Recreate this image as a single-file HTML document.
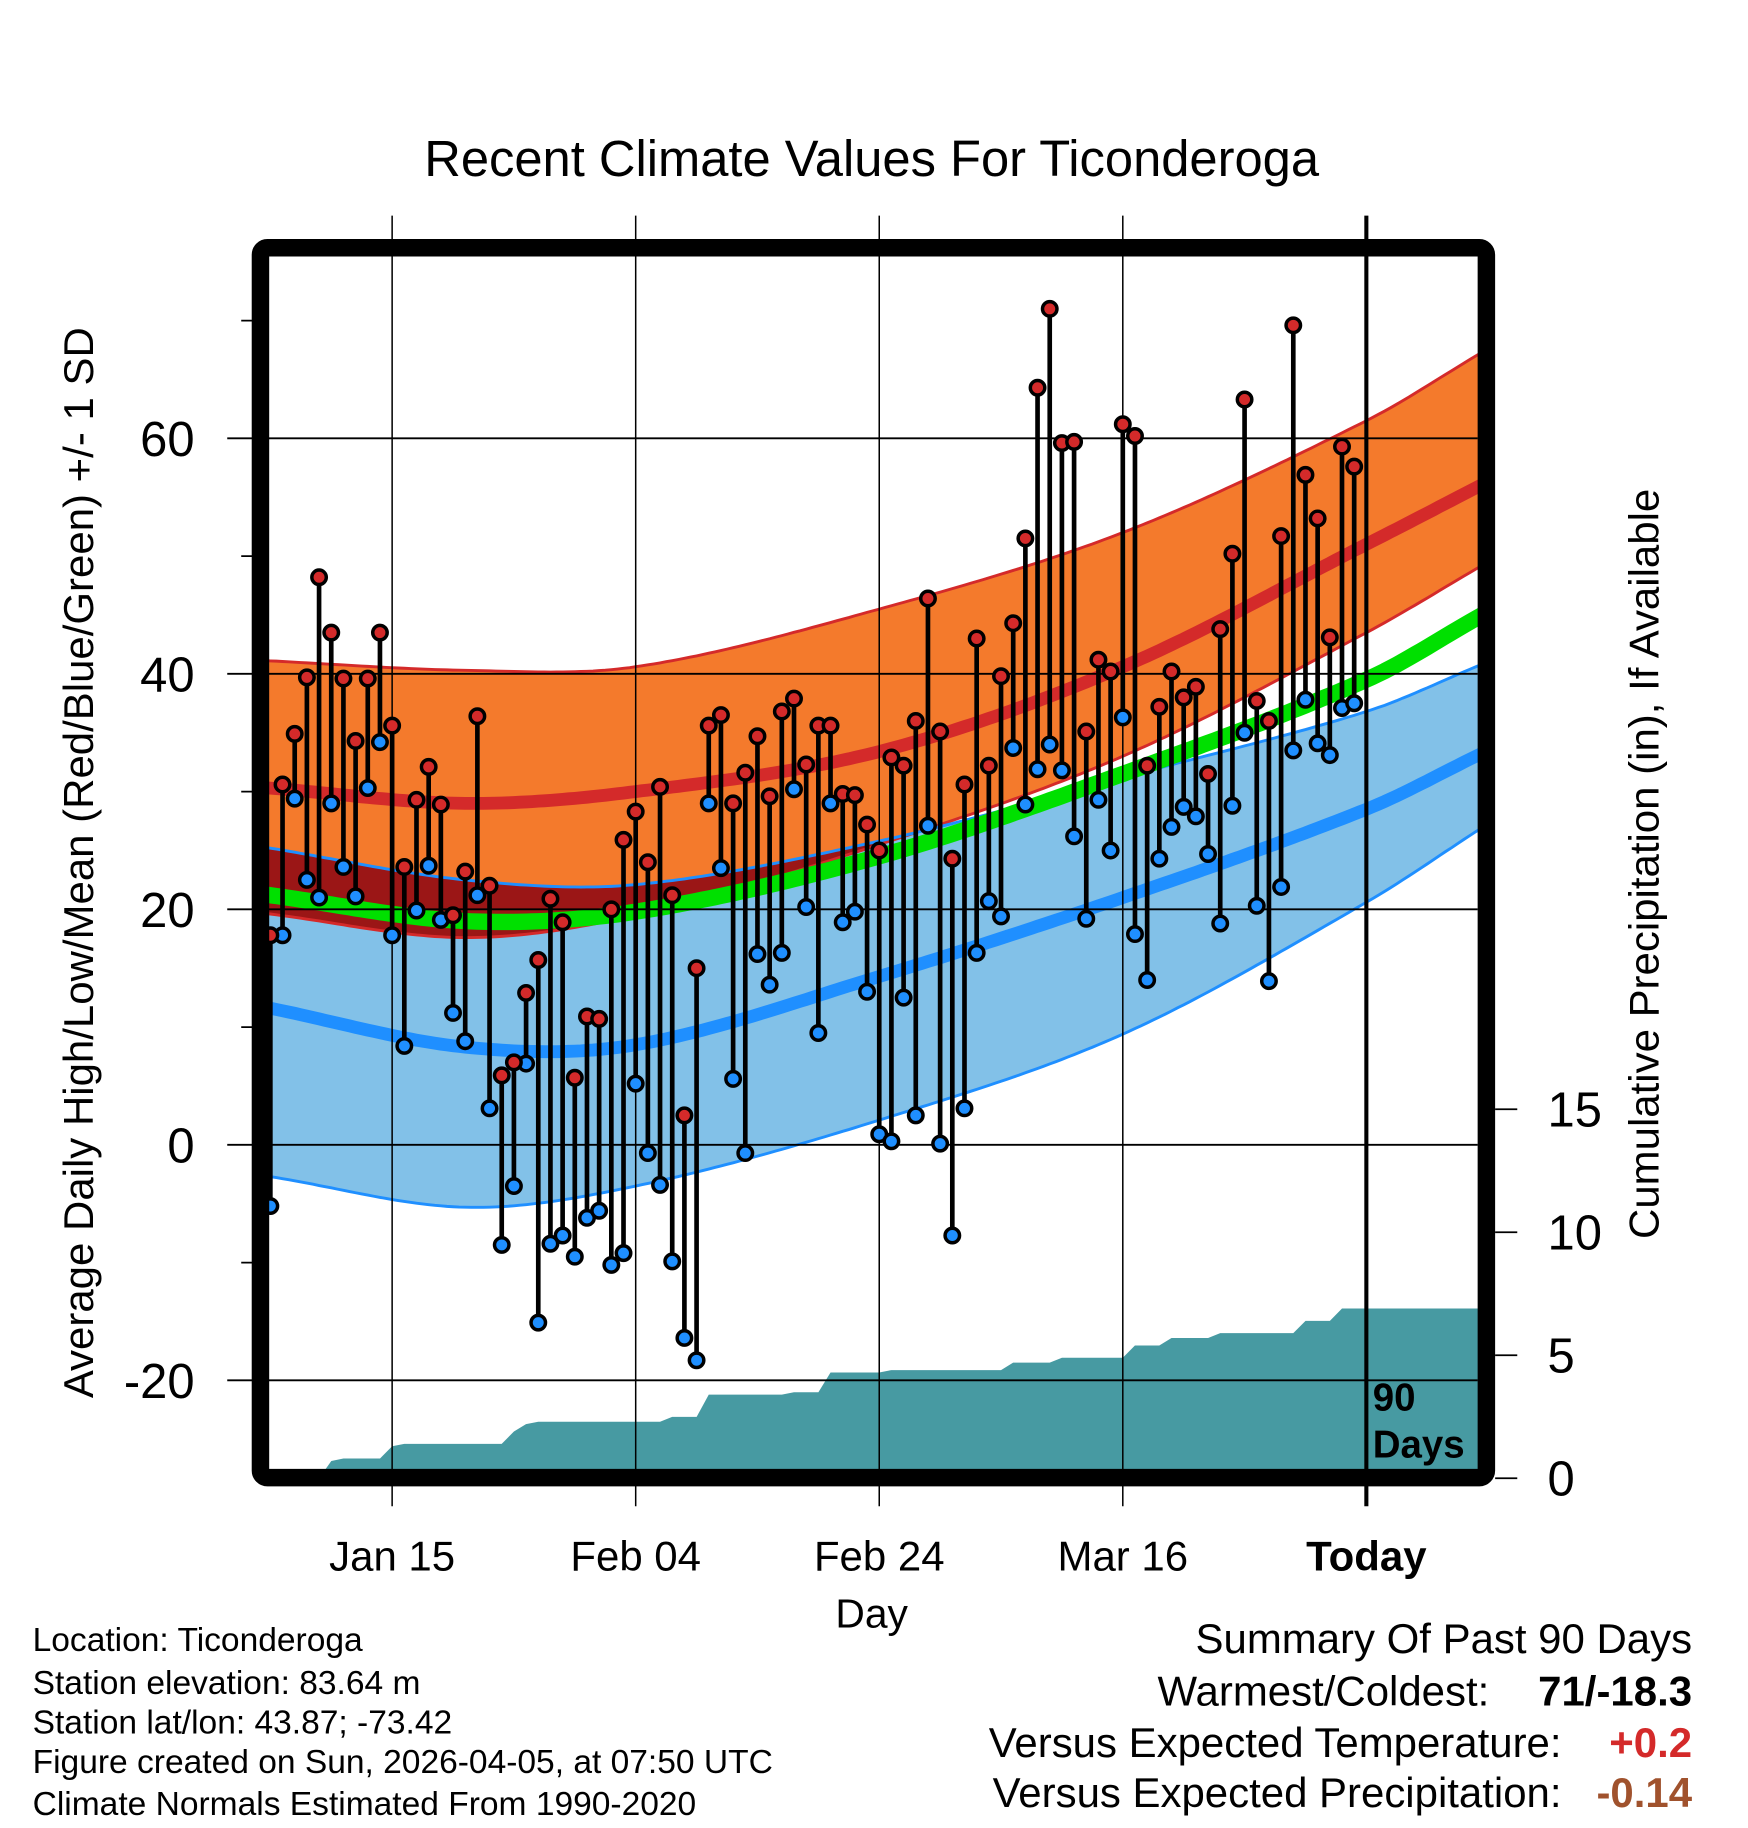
<!DOCTYPE html>
<html><head><meta charset="utf-8"><style>
html,body{margin:0;padding:0;background:#fff;}
svg{display:block;}
text{font-family:"Liberation Sans",sans-serif;}
</style></head><body>
<svg id="chart" width="1748" height="1828" viewBox="0 0 1500 1568" preserveAspectRatio="none" xmlns="http://www.w3.org/2000/svg">
<defs><clipPath id="plotclip"><rect x="224" y="214" width="1052" height="1048"/></clipPath></defs>
<text x="748" y="151" font-size="43.5" text-anchor="middle">Recent Climate Values For Ticonderoga</text>
<g id="plot" clip-path="url(#plotclip)"></g>
<g id="grid"></g>
<g id="marks" clip-path="url(#plotclip)"></g>
<rect x="223.5" y="212.5" width="1052" height="1055" rx="6" fill="none" stroke="#000" stroke-width="15"/>
<text transform="translate(80,740) rotate(-90)" font-size="36" text-anchor="middle">Average Daily High/Low/Mean (Red/Blue/Green) +/- 1 SD</text>
<text transform="translate(1423,741) rotate(-90)" font-size="36" text-anchor="middle">Cumulative Precipitation (in), If Available</text>
<text x="748" y="1396" font-size="35" text-anchor="middle">Day</text>
<g font-size="28.8">
<text x="28" y="1416">Location: Ticonderoga</text>
<text x="28" y="1453">Station elevation: 83.64 m</text>
<text x="28" y="1487">Station lat/lon: 43.87; -73.42</text>
<text x="28" y="1521">Figure created on Sun, 2026-04-05, at 07:50 UTC</text>
<text x="28" y="1557">Climate Normals Estimated From 1990-2020</text>
</g>
<g font-size="36">
<text x="1452" y="1418" text-anchor="end">Summary Of Past 90 Days</text>
<text x="1278" y="1463" text-anchor="end">Warmest/Coldest:</text>
<text x="1452" y="1463" text-anchor="end" font-weight="bold">71/-18.3</text>
<text x="1340" y="1507" text-anchor="end">Versus Expected Temperature:</text>
<text x="1452" y="1507" text-anchor="end" font-weight="bold" fill="#d42a2a">+0.2</text>
<text x="1340" y="1550" text-anchor="end">Versus Expected Precipitation:</text>
<text x="1452" y="1550" text-anchor="end" font-weight="bold" fill="#a0522d">-0.14</text>
</g>
</svg>
<script>
const highs=[17.8,30.6,34.9,39.7,48.2,43.5,39.6,34.3,39.6,43.5,35.6,23.6,29.3,32.1,28.9,19.5,23.2,36.4,22,5.9,7,12.9,15.7,20.9,18.9,5.7,10.9,10.7,20,25.9,28.3,24,30.4,21.2,2.5,15,35.6,36.5,29,31.6,34.7,29.6,36.8,37.9,32.3,35.6,35.6,29.8,29.7,27.2,25,32.9,32.2,36,46.4,35.1,24.3,30.6,43,32.2,39.8,44.3,51.5,64.3,71,59.6,59.7,35.1,41.2,40.2,61.2,60.2,32.2,37.2,40.2,38,38.9,31.5,43.8,50.2,63.3,37.7,36,51.7,69.6,56.9,53.2,43.1,59.3,57.6];
const lows=[-5.2,17.8,29.4,22.5,21,29,23.6,21.1,30.3,34.2,17.8,8.4,19.9,23.7,19.1,11.2,8.8,21.2,3.1,-8.5,-3.5,6.9,-15.1,-8.4,-7.7,-9.5,-6.2,-5.6,-10.2,-9.2,5.2,-0.7,-3.4,-9.9,-16.4,-18.3,29,23.5,5.6,-0.7,16.2,13.6,16.3,30.2,20.2,9.5,29,18.9,19.8,13,0.9,0.3,12.5,2.5,27.1,0.1,-7.7,3.1,16.3,20.7,19.4,33.7,28.9,31.9,34,31.8,26.2,19.2,29.3,25,36.3,17.9,14,24.3,27,28.7,27.9,24.7,18.8,28.8,35,20.3,13.9,21.9,33.5,37.8,34.1,33.1,37.1,37.5];
const precip=[0,0,0,0,0,0.7,0.8,0.8,0.8,0.8,1.3,1.4,1.4,1.4,1.4,1.4,1.4,1.4,1.4,1.4,1.9,2.2,2.3,2.3,2.3,2.3,2.3,2.3,2.3,2.3,2.3,2.3,2.3,2.5,2.5,2.5,3.4,3.4,3.4,3.4,3.4,3.4,3.4,3.5,3.5,3.5,4.3,4.3,4.3,4.3,4.3,4.4,4.4,4.4,4.4,4.4,4.4,4.4,4.4,4.4,4.4,4.7,4.7,4.7,4.7,4.9,4.9,4.9,4.9,4.9,4.9,5.4,5.4,5.4,5.7,5.7,5.7,5.7,5.9,5.9,5.9,5.9,5.9,5.9,5.9,6.4,6.4,6.4,6.9,6.9];
const normDays=[0,16,30,50,70,90,99];
const hiMean=[30.3,29,30,33.4,40.6,51,55.8];
const hiUpper=[41.1,40.3,40.6,45.5,52,61.5,67];
const hiLower=[19.6,17.6,19.5,25.5,33,43.5,48.9];
const avgMean=[21.2,19,19.8,24.5,31.5,39.5,44.7];
const loMean=[11.6,8.3,8.5,14.3,21,28.5,33];
const loUpper=[25.2,22.5,22.1,25.8,31.2,36.8,40.6];
const loLower=[-2.7,-5.3,-3.5,2.1,9.4,20.6,26.6];
const yTicks=[60,40,20,0,-20];
const yMinor=[70,50,30,10,-10];
const pTicks=[15,10,5,0];
const xTickDays=[10,30,50,70,90];
const xTickLabels=["Jan 15","Feb 04","Feb 24","Mar 16","Today"];

const NS="http://www.w3.org/2000/svg";
const X=d=>232+10.45*d;
const Y=v=>982-10.1*v;
const YP=p=>1268-21.1*p;
function mk(tag,attrs,parent){const e=document.createElementNS(NS,tag);for(const k in attrs)e.setAttribute(k,attrs[k]);parent.appendChild(e);return e;}
function interp(ys,t){
  let i=0;while(i<normDays.length-2&&t>normDays[i+1])i++;
  const x0=normDays[i],x1=normDays[i+1];const u=(t-x0)/(x1-x0);
  const p0=ys[Math.max(i-1,0)],p1=ys[i],p2=ys[i+1],p3=ys[Math.min(i+2,ys.length-1)];
  const d0=normDays[Math.max(i-1,0)],d3=normDays[Math.min(i+2,ys.length-1)];
  const m1=(p2-p0)/((x1-d0)||1)*(x1-x0),m2=(p3-p1)/((d3-x0)||1)*(x1-x0);
  const u2=u*u,u3=u2*u;
  return (2*u3-3*u2+1)*p1+(u3-2*u2+u)*m1+(-2*u3+3*u2)*p2+(u3-u2)*m2;
}
const ts=[];for(let t=-1;t<=100;t+=0.5)ts.push(t);
const line=ys=>ts.map((t,k)=>(k?'L':'M')+X(t).toFixed(1)+','+Y(interp(ys,t)).toFixed(1)).join('');
const band=(a,b)=>line(a)+ts.slice().reverse().map(t=>'L'+X(t).toFixed(1)+','+Y(interp(b,t)).toFixed(1)).join('')+'Z';
const plotG=document.getElementById('plot');

let el=mk('path',{d:band(hiUpper,hiLower),fill:'#f47a2c'},plotG);


el=mk('path',{d:band(loUpper,loLower),fill:'#82c1e8'},plotG);


const ovTop=[],ovBot=[];
ts.forEach(t=>{const hl=interp(hiLower,t),lu=interp(loUpper,t);const tp=Math.min(lu,interp(hiUpper,t));ovTop.push([X(t),Y(Math.max(tp,hl))]);ovBot.push([X(t),Y(hl)]);});
el=mk('path',{d:ovTop.map((p,k)=>(k?'L':'M')+p[0].toFixed(1)+','+p[1].toFixed(1)).join('')+ovBot.reverse().map(p=>'L'+p[0].toFixed(1)+','+p[1].toFixed(1)).join('')+'Z',fill:'#9b1616'},plotG);



const lineSpecs=[[hiUpper,'#d42a2a',2.5,'high-upper-sd-line'],[hiLower,'#d42a2a',2.5,'high-lower-sd-line'],[loUpper,'#1f8fff',2.5,'low-upper-sd-line'],[loLower,'#1f8fff',2.5,'low-lower-sd-line'],[hiMean,'#d42a2a',11,'normal-high-line'],[loMean,'#1f8fff',11,'normal-low-line'],[avgMean,'#00e000',14,'normal-mean-line']];
lineSpecs.forEach(l=>{const p=mk('path',{d:line(l[0]),fill:'none',stroke:l[1],'stroke-width':l[2]},plotG);

});

let pd='M'+X(0)+','+YP(0);
precip.forEach((v,i)=>{pd+='L'+X(i).toFixed(1)+','+YP(v).toFixed(1);});
pd+='L'+X(100)+','+YP(precip[precip.length-1]).toFixed(1)+'L'+X(100)+','+YP(0)+'Z';
el=mk('path',{d:pd,fill:'#479aa2'},plotG);



const gridG=document.getElementById('grid');
yTicks.forEach(v=>{const l=mk('line',{x1:195,x2:1268,y1:Y(v),y2:Y(v),stroke:'#000','stroke-width':1.6},gridG);


const t=mk('text',{x:167,y:Y(v)+15,'font-size':42,'text-anchor':'end'},gridG);t.textContent=v;

});
yMinor.forEach(v=>{const l=mk('line',{x1:207,x2:224,y1:Y(v),y2:Y(v),stroke:'#000','stroke-width':1.5},gridG);

});
xTickDays.forEach((d,i)=>{const last=i===xTickDays.length-1;
const l=mk('line',{x1:X(d),x2:X(d),y1:185,y2:1292,stroke:'#000','stroke-width':last?3.5:1.3},gridG);


const t=mk('text',{x:X(d),y:1347,'font-size':36,'text-anchor':'middle','font-weight':last?'bold':'normal'},gridG);t.textContent=xTickLabels[i];

});
pTicks.forEach(p=>{const l=mk('line',{x1:1283,x2:1302,y1:YP(p),y2:YP(p),stroke:'#000','stroke-width':1.5},gridG);


const t=mk('text',{x:1328,y:YP(p)+15,'font-size':42},gridG);t.textContent=p;

});
const g90=mk('text',{x:1178,y:1210,'font-size':33,'font-weight':'bold'},gridG);g90.textContent='90';


const gd=mk('text',{x:1178,y:1250,'font-size':33,'font-weight':'bold'},gridG);gd.textContent='Days';



const marksG=document.getElementById('marks');
highs.forEach((h,i)=>{const s=mk('line',{x1:X(i),x2:X(i),y1:Y(h),y2:Y(lows[i]),stroke:'#000','stroke-width':4},marksG);

});
lows.forEach((v,i)=>{const c=mk('circle',{cx:X(i),cy:Y(v),r:6.2,fill:'#1f8fff',stroke:'#000','stroke-width':3},marksG);

});
highs.forEach((v,i)=>{const c=mk('circle',{cx:X(i),cy:Y(v),r:6.2,fill:'#d42a2a',stroke:'#000','stroke-width':3},marksG);

});
</script>
</body></html>
